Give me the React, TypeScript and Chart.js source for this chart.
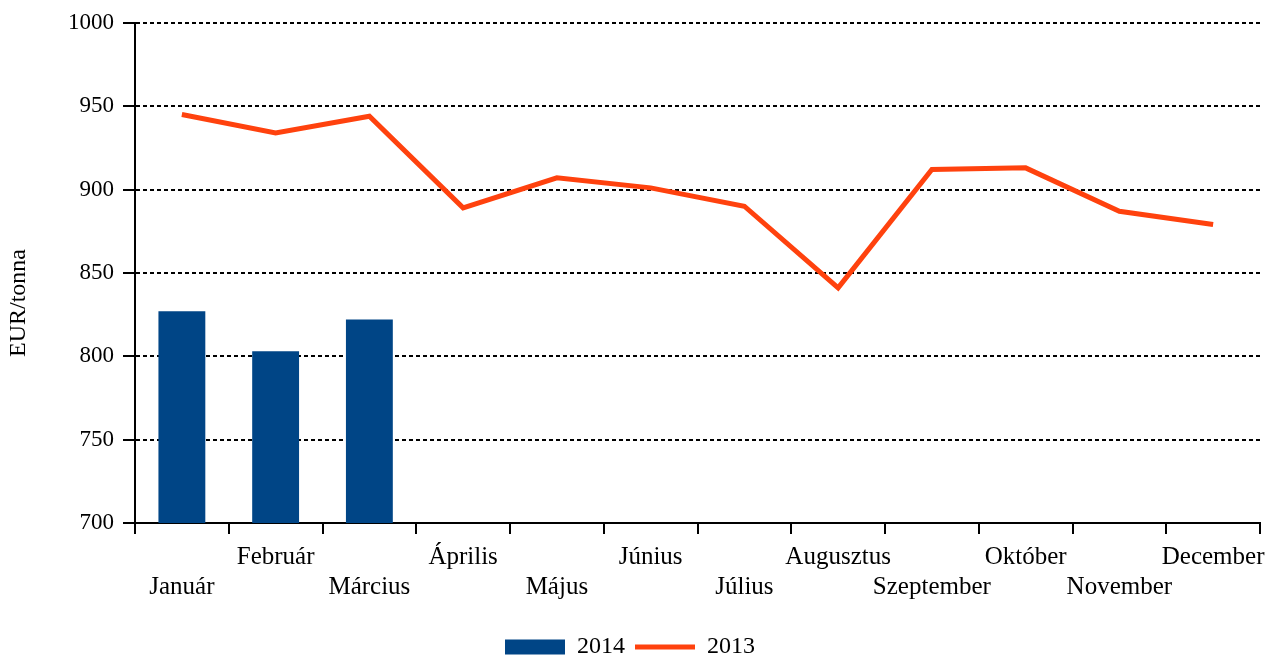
import React, { useEffect, useRef } from "react";
import { Chart, registerables } from "chart.js";

Chart.register(...registerables);

const months = [
  "Január", "Február", "Március", "Április", "Május", "Június",
  "Július", "Augusztus", "Szeptember", "Október", "November", "December",
];
const values2014 = [827, 803, 822, null, null, null, null, null, null, null, null, null];
const values2013 = [945, 934, 944, 889, 907, 901, 890, 841, 912, 913, 887, 879];
const seriesNames = ["2014", "2013"];
const yTitle = "EUR/tonna";
const yMin = 700;
const yMax = 1000;
const yStep = 50;

const FONT = "'Liberation Serif', 'Times New Roman', serif";

const yTitlePlugin = {
  id: "yTitlePlugin",
  afterDraw(chart: any) {
    const ctx = chart.ctx;
    ctx.save();
    ctx.translate(19, 303);
    ctx.rotate(-Math.PI / 2);
    ctx.font = `24px ${FONT}`;
    ctx.fillStyle = "#000";
    ctx.textAlign = "center";
    ctx.textBaseline = "middle";
    ctx.fillText(yTitle, 0, 0);
    ctx.restore();
  },
};

export default function App() {
  const ref = useRef<HTMLCanvasElement | null>(null);

  useEffect(() => {
    if (!ref.current) return;
    const chart = new Chart(ref.current, {
      type: "bar",
      data: {
        labels: months,
        datasets: [
          {
            type: "bar",
            label: seriesNames[0],
            data: values2014,
            backgroundColor: "#004586",
            borderWidth: 0,
            categoryPercentage: 1,
            barPercentage: 0.5,
            pointStyle: "rect",
          } as any,
          {
            type: "line",
            label: seriesNames[1],
            data: values2013,
            borderColor: "#ff420e",
            backgroundColor: "#ff420e",
            borderWidth: 5,
            pointRadius: 0,
            pointHoverRadius: 0,
            tension: 0,
            fill: false,
            pointStyle: "line",
          } as any,
        ],
      },
      options: {
        animation: false,
        responsive: true,
        maintainAspectRatio: false,
        layout: { padding: { left: 0, right: 18, top: 21, bottom: -8 } },
        plugins: {
          tooltip: { enabled: false },
          legend: {
            display: true,
            position: "bottom",
            labels: {
              usePointStyle: true,
              pointStyleWidth: 60,
              boxHeight: 15,
              padding: 10,
              color: "#000",
              font: { family: FONT, size: 24 },
            },
          },
        },
        scales: {
          x: {
            offset: true,
            grid: {
              offset: true,
              drawOnChartArea: false,
              drawTicks: true,
              tickLength: 11,
              color: "#000",
              lineWidth: 2,
            },
            border: { display: true, color: "#000", width: 2 },
            ticks: {
              autoSkip: false,
              maxRotation: 0,
              minRotation: 0,
              padding: 8,
              color: "#000",
              font: { family: FONT, size: 25 },
              callback: (_v: any, i: number) =>
                i % 2 === 1 ? [months[i], ""] : ["", months[i]],
            },
            afterFit: (scale: any) => {
              scale.height = 102;
            },
          },
          y: {
            min: yMin,
            max: yMax,
            grid: {
              color: "#000",
              lineWidth: 2,
              drawTicks: true,
              tickLength: 12,
            },
            border: { display: true, color: "#000", width: 2, dash: [4, 3] },
            ticks: {
              stepSize: yStep,
              padding: 9,
              color: "#000",
              font: { family: FONT, size: 23 },
              callback: (v: any) => String(v),
            },
            afterFit: (scale: any) => {
              scale.width = 135;
            },
          },
        },
      },
      plugins: [yTitlePlugin],
    } as any);
    return () => chart.destroy();
  }, []);

  return (
    <div style={{ position: "fixed", left: 0, top: 0, width: 1278, height: 661, background: "#fff" }}>
      <canvas ref={ref} />
    </div>
  );
}
